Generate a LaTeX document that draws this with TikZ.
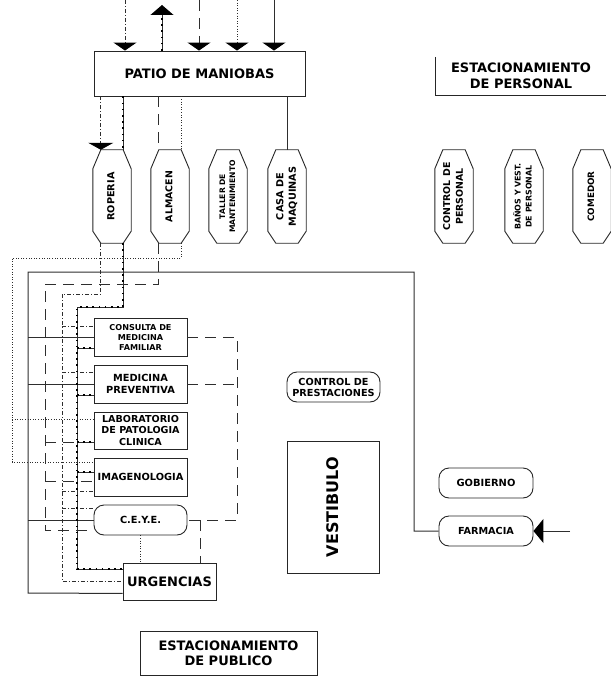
\documentclass[tikz,border=0pt]{standalone}
\usepackage{fontspec}
\setmainfont{DejaVu Sans}
\usetikzlibrary{arrows.meta}

% frame of an elongated, chamfered room outline around a named node
\newcommand\hexframe[1]{%
  \draw[boxline] ([xshift=8pt]#1.north west) -- ([xshift=-8pt]#1.north east)
    -- ([yshift=-19pt]#1.north east) -- ([yshift=12pt]#1.south east)
    -- ([xshift=-8pt]#1.south east) -- ([xshift=8pt]#1.south west)
    -- ([yshift=12pt]#1.south west) -- ([yshift=-19pt]#1.north west) -- cycle;}
\newcommand\vlab[1]{\rotatebox{90}{\begin{tabular}{@{}c@{}}#1\end{tabular}}}
\newcommand\fs[2]{\fontsize{#1}{#2}\selectfont\bfseries}

\begin{document}
\begin{tikzpicture}[x=1pt,y=-1pt,
  boxline/.style={draw=black!85, line width=0.9pt},
  plainbox/.style={boxline, inner sep=0pt, align=center},
  roundbox/.style={plainbox, rounded corners=10pt},
  hexnode/.style={inner sep=0pt, minimum width=38pt, minimum height=93pt},
  link/.style={draw=black!82, line width=1pt},
  lsolid/.style={link},
  llong/.style={link, dash pattern=on 11pt off 7pt},
  ldashdot/.style={link, dash pattern=on 4pt off 2pt on 1pt off 2pt},
  ldot/.style={link, dash pattern=on 1pt off 1.6pt},
  lbead/.style={link, postaction={draw=black, -, line width=2.4pt, dash pattern=on 1.6pt off 4.6pt}},
  tipin/.style={-{Triangle[width=23pt,length=8pt,color=black]}},
  tipout/.style={-{Triangle[width=23pt,length=10pt,color=black]}},
]
\useasboundingbox (0,0) rectangle (610,676);

% ---------- service yard and staff parking ----------
\node[plainbox, minimum width=211pt, minimum height=45pt, font=\fs{13}{16}] (patio) at (199.5,73.5) {PATIO DE MANIOBAS};
\node[inner sep=0pt, minimum width=170pt, minimum height=38pt, align=center, font=\fs{13}{16}] (estper) at (521,76) {ESTACIONAMIENTO\\DE PERSONAL};
\draw[boxline] (estper.north west) -- (estper.south west) -- (estper.south east);

% ---------- service rooms ----------
\node[hexnode, font=\fs{9.7}{12}] (roperia) at (112,196.5) {\vlab{ROPERIA}};
\node[hexnode, font=\fs{9.4}{12}] (almacen) at (170,196.5) {\vlab{ALMACEN}};
\node[hexnode, font=\fs{7.6}{10}] (taller)  at (228,196.5) {\vlab{TALLER DE\\MANTENIMIENTO}};
\node[hexnode, font=\fs{9.7}{12.5}] (casa)  at (287,196.5) {\vlab{CASA DE\\MAQUINAS}};
\node[hexnode, font=\fs{9.4}{12.8}] (ctrlper) at (454,196.5) {\vlab{CONTROL DE\\PERSONAL}};
\node[hexnode, font=\fs{7.9}{11}] (banos)   at (524,196.5) {\vlab{BAÑOS Y VEST.\\DE PERSONAL}};
\node[hexnode, font=\fs{8.8}{11}] (comedor) at (592,196.5) {\vlab{COMEDOR}};
\foreach \h in {roperia,almacen,taller,casa,ctrlper,banos,comedor} {\hexframe{\h}}

% ---------- clinical block ----------
\node[plainbox, minimum width=93pt, minimum height=38pt, font=\fs{8.1}{10}] (consulta) at (140.5,337) {CONSULTA DE\\MEDICINA\\FAMILIAR};
\node[plainbox, minimum width=93pt, minimum height=38pt, font=\fs{9.8}{12}] (medprev) at (140.5,384) {MEDICINA\\PREVENTIVA};
\node[plainbox, minimum width=93pt, minimum height=37pt, font=\fs{9.6}{11.7}] (lab) at (140.5,430.5) {LABORATORIO\\DE PATOLOGIA\\CLINICA};
\node[plainbox, minimum width=93pt, minimum height=38pt, font=\fs{9.8}{12}] (imagen) at (140.5,477) {IMAGENOLOGIA};
\node[roundbox, minimum width=93pt, minimum height=30pt, font=\fs{9.8}{12}] (ceye) at (140.5,520) {C.E.Y.E.};
\node[plainbox, minimum width=93pt, minimum height=37pt, font=\fs{13}{16}] (urg) at (169.5,581.5) {URGENCIAS};

% ---------- public area ----------
\node[roundbox, minimum width=93pt, minimum height=30pt, font=\fs{9.7}{11}] (prest) at (333.5,387) {CONTROL DE\\PRESTACIONES};
\node[plainbox, minimum width=92pt, minimum height=132pt, font=\fs{16}{19}] (vest) at (333,507) {\rotatebox{90}{VESTIBULO}};
\node[roundbox, minimum width=94pt, minimum height=30pt, font=\fs{9.9}{12}] (gob) at (486,483) {GOBIERNO};
\node[roundbox, minimum width=94pt, minimum height=30pt, font=\fs{9.7}{12}] (farm) at (486,531) {FARMACIA};
\node[plainbox, minimum width=177pt, minimum height=44pt, font=\fs{13}{15}] (estpub) at (228.5,653) {ESTACIONAMIENTO\\DE PUBLICO};

% ---------- attachment points on the service rooms ----------
\coordinate (roA) at ([xshift=8pt]roperia.north west);
\coordinate (roB) at ([xshift=-8pt]roperia.north east);
\coordinate (roC) at ([xshift=8pt]roperia.south west);
\coordinate (roD) at ([xshift=-8pt]roperia.south east);
\coordinate (alA) at ([xshift=8pt]almacen.north west);
\coordinate (alB) at ([xshift=-8pt]almacen.north east);
\coordinate (alC) at ([xshift=8pt]almacen.south west);
\coordinate (alD) at ([xshift=-8pt]almacen.south east);

% ---------- flows entering and leaving the yard ----------
\coordinate (t1) at (125,0);
\coordinate (t2) at (162,5);
\coordinate (t3) at (199,0);
\coordinate (t4) at (237,0);
\coordinate (t5) at (274,0);
\draw[ldashdot, tipin] (t1) -- (t1 |- patio.north);
\draw[lbead, tipout] (t2 |- patio.north) -- (t2);
\draw[llong, tipin] (t3) -- (t3 |- patio.north);
\draw[ldot, tipin] (t4) -- (t4 |- patio.north);
\draw[lsolid, tipin] (t5) -- (t5 |- patio.north);

\draw[ldashdot, -{Triangle[width=25pt,length=7pt,color=black]}] (roA |- patio.south) -- (roA);
\draw[lbead] (roB |- patio.south) -- (roB);
\draw[llong] (alA |- patio.south) -- (alA);
\draw[ldot] (alB |- patio.south) -- (alB);
\draw[lsolid] (casa.north |- patio.south) -- (casa.north);

% ---------- solid circuit ----------
\coordinate (fr) at (414,272);
\draw[lsolid] (farm.west) -- (fr |- farm.west) -- (fr) -- (28,272) -- (28,593) -- ([yshift=7pt]urg.south west);
\foreach \b in {consulta,medprev,ceye} {\draw[lsolid] (28,0 |- \b.west) -- (\b.west);}

% ---------- long dashed circuit ----------
\draw[llong] (alC) -- (alC |- 0,284) -- (45,284) -- (45,530) -- (45,530 -| ceye.west);
\draw[llong] (45,442) -- (45,442 -| lab.west);
\draw[llong] (45,481) -- (45,481 -| imagen.west);
\draw[llong] (consulta.east) -- (237,0 |- consulta.east) -- (237,0 |- ceye.east) -- (ceye.east);
\draw[llong] (medprev.east) -- (237,0 |- medprev.east);
\draw[llong] (200,0 |- ceye.east) -- (200,0 |- urg.north);

% ---------- dash-dot circuit ----------
\draw[ldashdot] (roC) -- (roC |- 0,294) -- (62,294) -- (62,0 |- urg.west) -- (urg.west);
\draw[ldashdot] (62,326) -- (62,326 -| consulta.west);
\draw[ldashdot] (62,372) -- (62,372 -| medprev.west);
\draw[ldashdot] (62,491) -- (62,491 -| imagen.west);
\draw[ldashdot] (62,508) -- (62,508 -| ceye.west);

% ---------- beaded circuit ----------
\draw[lbead] (roD) -- (roD |- 0,307) -- (77,307) -- (77,569) -- (77,569 -| urg.west);
\draw[lbead] (77,348) -- (77,348 -| consulta.west);
\draw[lbead] (77,395) -- (77,395 -| medprev.west);
\draw[lbead] (77,442) -- (77,442 -| lab.west);
\draw[lbead] (77,472) -- (77,472 -| imagen.west);

% ---------- dotted circuit ----------
\draw[ldot] (alD) -- (alD |- 0,258) -- (12,258) -- (12,462) -- (12,462 -| imagen.west);
\draw[ldot] (12,419) -- (12,419 -| lab.west);
\draw[ldot] (ceye.south) -- (ceye.south |- urg.north);

% ---------- pharmacy entrance ----------
\coordinate (fin) at (570,531);
\draw[lsolid, -{Triangle[width=24pt,length=10pt,color=black]}] (fin) -- (farm.east);
\end{tikzpicture}
\end{document}
